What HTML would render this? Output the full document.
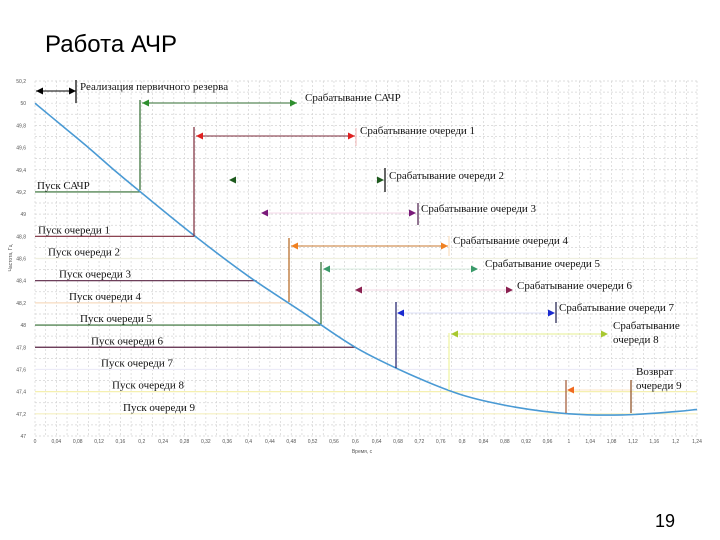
<!DOCTYPE html>
<html><head><meta charset="utf-8"><style>
body{margin:0;background:#fff;width:720px;height:540px;overflow:hidden;font-family:"Liberation Sans",sans-serif}
svg{position:absolute;left:0;top:0}
</style></head><body>
<svg id="c" width="720" height="540">
<text x="45" y="52" font-size="24" fill="#000" font-family="Liberation Sans, sans-serif">Работа АЧР</text>
<text x="655" y="527" font-size="18" fill="#000" font-family="Liberation Sans, sans-serif">19</text>
<g id="grid"></g><g id="ax"></g><g id="marks"></g><g id="ann"></g>
</svg>
<script>
const xTicks=[0,0.04,0.08,0.12,0.16,0.2,0.24,0.28,0.32,0.36,0.4,0.44,0.48,0.52,0.56,0.6,0.64,0.68,0.72,0.76,0.8,0.84,0.88,0.92,0.96,1,1.04,1.08,1.12,1.16,1.2,1.24];
const yTicks=[47,47.2,47.4,47.6,47.8,48,48.2,48.4,48.6,48.8,49,49.2,49.4,49.6,49.8,50,50.2];
const curveT=[0,0.05,0.1,0.15,0.2,0.3,0.4,0.5,0.6,0.7,0.8,0.9,1.0,1.1,1.2,1.24];
const curveF=[50.0,49.8,49.6,49.39,49.19,48.8,48.44,48.12,47.8,47.56,47.37,47.26,47.2,47.19,47.22,47.24];
const startLabels=["Пуск САЧР","Пуск очереди 1","Пуск очереди 2","Пуск очереди 3","Пуск очереди 4","Пуск очереди 5","Пуск очереди 6","Пуск очереди 7","Пуск очереди 8","Пуск очереди 9"];
const startFreq=[49.2,48.8,48.6,48.4,48.2,48.0,47.8,47.6,47.4,47.2];
const X0=35,X1=697,Y0=436,Y1=81;
const sx=t=>X0+(t-0)/(1.24)*(X1-X0);
const sy=f=>Y0-(f-47)/(3.2)*(Y0-Y1);
const NS="http://www.w3.org/2000/svg";
function mk(p,tag,a){const e=document.createElementNS(NS,tag);for(const k in a)e.setAttribute(k,a[k]);p.appendChild(e);return e;}
const grid=document.getElementById('grid'),ax=document.getElementById('ax'),marks=document.getElementById('marks'),ann=document.getElementById('ann');
for(let i=0;i<=62;i++){const x=X0+i*(X1-X0)/62;const g=mk(grid,'line',{x1:x,x2:x,y1:Y1,y2:Y0,stroke:'#d4d4d4','stroke-width':0.7,'stroke-dasharray':'2,2'});}
for(let i=0;i<=32;i++){const y=Y1+i*(Y0-Y1)/32;const g=mk(grid,'line',{x1:X0,x2:X1,y1:y,y2:y,stroke:'#d4d4d4','stroke-width':0.7,'stroke-dasharray':'2,2'});}
xTicks.forEach(t=>{const e=mk(ax,'text',{x:sx(t),y:443,'font-size':5,'text-anchor':'middle',fill:'#555'});e.textContent=String(t).replace('.',',');});
yTicks.forEach(f=>{const e=mk(ax,'text',{x:26,y:sy(f)+2,'font-size':5,'text-anchor':'end',fill:'#555'});e.textContent=String(f).replace('.',',');});
let xt=mk(ax,'text',{x:362,y:453,'font-size':5,'text-anchor':'middle',fill:'#555'});xt.textContent='Время, с';

let yt=mk(ax,'text',{x:12,y:258,'font-size':5,'text-anchor':'middle',fill:'#555',transform:'rotate(-90 12 258)'});yt.textContent='Частота, Гц';

const lineCol=['#2f6b2f','#7b2a3a','#f0f0e0','#5a2545','#f7dcc0','#2f6b2f','#5a2545','#ecebf8','#f5f0b0','#f5f0c0'];
const lineEnd=[0.197,0.3,1.24,0.415,0.475,0.535,0.6,1.24,1.24,1.24];
const labelX=[37,38,48,59,69,80,91,101,112,123];
startFreq.forEach((f,i)=>{const l=mk(marks,'line',{x1:X0,x2:sx(lineEnd[i]),y1:sy(f),y2:sy(f),stroke:lineCol[i],'stroke-width':1.2});

const t=mk(marks,'text',{x:labelX[i],y:sy(f)-3,'font-size':11,'font-family':'Liberation Serif, serif',fill:'#111'});t.textContent=startLabels[i];
});
// smooth curve (Catmull-Rom)
const P=curveT.map((t,i)=>[sx(t),sy(curveF[i])]);
let d='M'+P[0][0].toFixed(1)+','+P[0][1].toFixed(1);
for(let i=0;i<P.length-1;i++){const p0=P[Math.max(0,i-1)],p1=P[i],p2=P[i+1],p3=P[Math.min(P.length-1,i+2)];
const c1=[p1[0]+(p2[0]-p0[0])/6,p1[1]+(p2[1]-p0[1])/6],c2=[p2[0]-(p3[0]-p1[0])/6,p2[1]-(p3[1]-p1[1])/6];
d+=`C${c1[0].toFixed(1)},${c1[1].toFixed(1)} ${c2[0].toFixed(1)},${c2[1].toFixed(1)} ${p2[0].toFixed(1)},${p2[1].toFixed(1)}`;}
const cp=mk(marks,'path',{d:d,fill:'none',stroke:'#4a9ad4','stroke-width':1.6,'stroke-linejoin':'round'});

function arrowHead(x,y,dir,col){mk(ann,'path',{d:`M${x},${y}l${-dir*7},-3.5l0,7z`,fill:col});}
function vline(x,y1,y2,col){mk(ann,'line',{x1:x,x2:x,y1:y1,y2:y2,stroke:col,'stroke-width':1.2});}
function hline(x1,x2,y,col){mk(ann,'line',{x1:x1,x2:x2,y1:y,y2:y,stroke:col,'stroke-width':1});}
function txt(x,y,s,name){const e=mk(ann,'text',{x:x,y:y,'font-size':11,'font-family':'Liberation Serif, serif',fill:'#111'});e.textContent=s;}
hline(36,76,91,'#000');arrowHead(36,91,-1,'#000');arrowHead(76,91,1,'#000');vline(76,80,103,'#000');txt(80,90,'Реализация первичного резерва','primary-reserve-label');
vline(140,100,190,'#2f6b2f');hline(142,297,103,'#2f6b2f');arrowHead(142,103,-1,'#2f8f2f');arrowHead(297,103,1,'#2f8f2f');txt(305,101,'Срабатывание САЧР','sachr-label');
vline(194,127,236,'#7b2a3a');hline(196,355,136,'#7b2a3a');arrowHead(196,136,-1,'#e02020');arrowHead(355,136,1,'#e02020');vline(356,128,146,'#f4c0c0');txt(360,134,'Срабатывание очереди 1','q1-label');
arrowHead(229,180,-1,'#1e5a1e');arrowHead(384,180,1,'#1e5a1e');vline(385,168,192,'#000');txt(389,179,'Срабатывание очереди 2','q2-label');
hline(262,416,213,'#f6d8ea');arrowHead(261,213,-1,'#7a1a7a');arrowHead(416,213,1,'#7a1a7a');vline(418,203,225,'#4a1a4a');txt(421,212,'Срабатывание очереди 3','q3-label');
vline(289,238,302,'#b5651d');hline(291,448,246,'#c87a30');arrowHead(291,246,-1,'#f08020');arrowHead(448,246,1,'#f08020');vline(449,236,256,'#fbe0c0');txt(453,244,'Срабатывание очереди 4','q4-label');
vline(321,262,324,'#2f6b2f');hline(323,476,269,'#d8ece0');arrowHead(323,269,-1,'#3a9a6a');arrowHead(478,269,1,'#3a9a6a');txt(485,267,'Срабатывание очереди 5','q5-label');
hline(355,512,290,'#f4d8e4');arrowHead(355,290,-1,'#8a2050');arrowHead(513,290,1,'#8a2050');txt(517,289,'Срабатывание очереди 6','q6-label');
vline(396,302,368,'#1a1a6a');hline(398,554,313,'#dde0f8');arrowHead(397,313,-1,'#1a2ad0');arrowHead(555,313,1,'#1a2ad0');vline(556,302,323,'#1a1a4a');txt(559,311,'Срабатывание очереди 7','q7-label');
vline(449,333,390,'#eef3a0');hline(451,607,334,'#e4ef90');arrowHead(451,334,-1,'#a8c830');arrowHead(608,334,1,'#a8c830');txt(613,329,'Срабатывание','q8-label-1');txt(613,343,'очереди 8','q8-label-2');
vline(566,380,413,'#a0522d');hline(568,630,390,'#fde5c8');arrowHead(567,390,-1,'#f06a20');vline(631,380,413,'#8a4a1a');txt(636,375,'Возврат','q9-label-1');txt(636,389,'очереди 9','q9-label-2');
</script>
</body></html>
